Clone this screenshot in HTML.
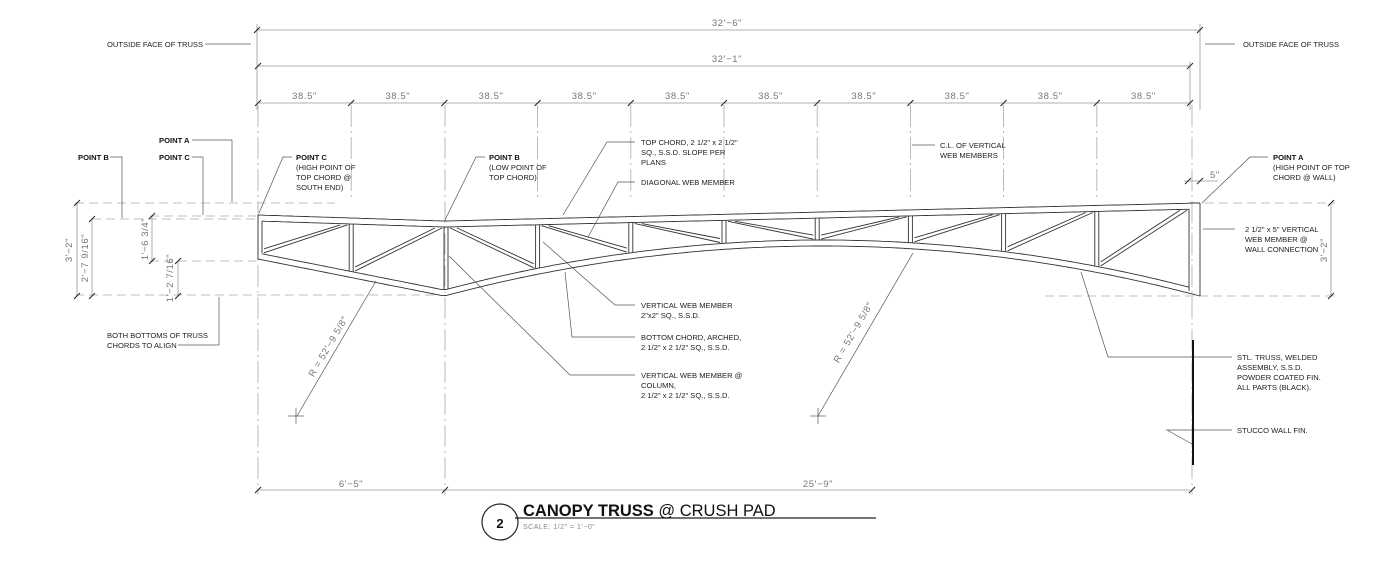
<!DOCTYPE html>
<html><head><meta charset="utf-8">
<style>
html,body{margin:0;padding:0;background:#fff;}
svg{display:block;}
text{font-family:"Liberation Sans Narrow","Liberation Sans",sans-serif;}
.l{font-size:7.6px;fill:#222;}
.b{font-size:7.6px;fill:#111;font-weight:bold;}
.d{font-family:"Liberation Sans",sans-serif;font-size:9.5px;fill:#777;letter-spacing:0.6px;}
</style></head><body>
<svg id="s" width="1400" height="584" viewBox="0 0 1400 584" xmlns="http://www.w3.org/2000/svg">
<g fill="none" stroke="#999" stroke-width="0.8">
 <line x1="256" y1="30" x2="1201" y2="30"/>
 <line x1="258" y1="66" x2="1190" y2="66"/>
 <line x1="258" y1="103" x2="1190" y2="103"/>
 <line x1="257" y1="24" x2="257" y2="110"/>
 <line x1="1200" y1="24" x2="1200" y2="110"/>
 <line x1="1190" y1="62" x2="1190" y2="110"/>
 <line x1="258" y1="490" x2="1190" y2="490"/>
 <g stroke-dasharray="22,4,2,4" stroke="#aaa">
  <line x1="258" y1="105" x2="258" y2="495"/>
  <line x1="445" y1="105" x2="445" y2="495"/>
  <line x1="1192" y1="105" x2="1192" y2="495"/>
 </g>
 <g stroke-dasharray="9,5" stroke="#aaa">
  <line x1="75" y1="203" x2="335" y2="203"/>
  <line x1="150" y1="216" x2="256" y2="216"/>
  <line x1="92" y1="219" x2="256" y2="219"/>
  <line x1="150" y1="261" x2="256" y2="261"/>
  <line x1="75" y1="295" x2="440" y2="295"/>
  <line x1="1205" y1="203" x2="1335" y2="203"/>
  <line x1="1045" y1="296" x2="1335" y2="296"/>
 </g>
 <line x1="77" y1="203" x2="77" y2="296"/>
 <line x1="92" y1="219" x2="92" y2="296"/>
 <line x1="152" y1="216" x2="152" y2="262"/>
 <line x1="178" y1="261" x2="178" y2="296"/>
 <line x1="1331" y1="203" x2="1331" y2="296"/>
 <line x1="1184" y1="181" x2="1218" y2="181"/>
</g>
<g id="ticks" stroke="#222" stroke-width="1"></g>
<g id="dd" fill="none" stroke="#aaa" stroke-width="0.8" stroke-dasharray="22,4,2,4"></g>
<g id="truss" fill="none" stroke="#333" stroke-width="0.9"></g>
<g fill="none" stroke="#555" stroke-width="0.7">
 <polyline points="205,44 251,44"/>
 <polyline points="1205,44 1235,44"/>
 <polyline points="192,140 232,140 232,202"/>
 <polyline points="110,157 122,157 122,218"/>
 <polyline points="192,157 203,157 203,215"/>
 <polyline points="178,345 219,345 219,297"/>
 <polyline points="292,157 283,157 259,213"/>
 <polyline points="485,157 476,157 445,220"/>
 <polyline points="635,142 607,142 563,215"/>
 <polyline points="635,182 618,182 588,237"/>
 <polyline points="935,145 912,145"/>
 <polyline points="1268,157 1250,157 1202,203"/>
 <polyline points="1235,229 1203,229"/>
 <polyline points="635,305 615,305 543,242"/>
 <polyline points="635,337 572,337 565,272"/>
 <polyline points="635,375 570,375 449,256"/>
 <polyline points="1232,357 1108,357 1081,272"/>
 <polyline points="1232,430 1167,430 1192,444"/>
 <line x1="297" y1="416" x2="376" y2="281"/>
 <line x1="818" y1="416" x2="913" y2="253"/>
 <line x1="288" y1="416" x2="304" y2="416"/><line x1="296" y1="408" x2="296" y2="424"/>
 <line x1="810" y1="416" x2="826" y2="416"/><line x1="818" y1="408" x2="818" y2="424"/>
 <line x1="515" y1="518" x2="876" y2="518" stroke="#222" stroke-width="1.2"/>
</g>
<line x1="1193" y1="340" x2="1193" y2="465" stroke="#111" stroke-width="2"/>
<circle cx="500" cy="522" r="18" fill="none" stroke="#222" stroke-width="1.2"/>
<g>
 <text class="d" x="727" y="26" text-anchor="middle">32'−6"</text>
 <text class="d" x="727" y="62" text-anchor="middle">32'−1"</text>
 <text class="d" x="351" y="487" text-anchor="middle">6'−5"</text>
 <text class="d" x="818" y="487" text-anchor="middle">25'−9"</text>
 <text class="d" x="1210" y="178">5"</text>
 <text class="d" transform="translate(72,250) rotate(-90)" text-anchor="middle">3'−2"</text>
 <text class="d" transform="translate(88,258) rotate(-90)" text-anchor="middle">2'−7  9/16"</text>
 <text class="d" transform="translate(148,239) rotate(-90)" text-anchor="middle">1'−6  3/4"</text>
 <text class="d" transform="translate(173,278) rotate(-90)" text-anchor="middle">1'−2  7/16"</text>
 <text class="d" transform="translate(1327,250) rotate(-90)" text-anchor="middle">3'−2"</text>
 <text class="d" transform="translate(331,348) rotate(-59.5)" text-anchor="middle">R = 52'−9  5/8"</text>
 <text class="d" transform="translate(856,334) rotate(-59.5)" text-anchor="middle">R = 52'−9  5/8"</text>
 <text class="l" x="107" y="47">OUTSIDE FACE OF TRUSS</text>
 <text class="l" x="1243" y="47">OUTSIDE FACE OF TRUSS</text>
 <text class="b" x="159" y="143">POINT A</text>
 <text class="b" x="78" y="160">POINT B</text>
 <text class="b" x="159" y="160">POINT C</text>
 <text class="l" x="107" y="338">BOTH BOTTOMS OF TRUSS</text>
 <text class="l" x="107" y="348">CHORDS TO ALIGN</text>
 <text class="b" x="296" y="160">POINT C</text>
 <text class="l" x="296" y="170">(HIGH POINT OF</text>
 <text class="l" x="296" y="180">TOP CHORD @</text>
 <text class="l" x="296" y="190">SOUTH END)</text>
 <text class="b" x="489" y="160">POINT B</text>
 <text class="l" x="489" y="170">(LOW POINT OF</text>
 <text class="l" x="489" y="180">TOP CHORD)</text>
 <text class="l" x="641" y="145">TOP CHORD, 2 1/2" x 2 1/2"</text>
 <text class="l" x="641" y="155">SQ., S.S.D.  SLOPE PER</text>
 <text class="l" x="641" y="165">PLANS</text>
 <text class="l" x="641" y="185">DIAGONAL WEB MEMBER</text>
 <text class="l" x="940" y="148">C.L. OF VERTICAL</text>
 <text class="l" x="940" y="158">WEB MEMBERS</text>
 <text class="b" x="1273" y="160">POINT A</text>
 <text class="l" x="1273" y="170">(HIGH POINT OF TOP</text>
 <text class="l" x="1273" y="180">CHORD @ WALL)</text>
 <text class="l" x="1245" y="232">2 1/2" x 5" VERTICAL</text>
 <text class="l" x="1245" y="242">WEB MEMBER @</text>
 <text class="l" x="1245" y="252">WALL CONNECTION</text>
 <text class="l" x="641" y="308">VERTICAL WEB MEMBER</text>
 <text class="l" x="641" y="318">2"x2" SQ., S.S.D.</text>
 <text class="l" x="641" y="340">BOTTOM CHORD, ARCHED,</text>
 <text class="l" x="641" y="350">2 1/2" x 2 1/2" SQ., S.S.D.</text>
 <text class="l" x="641" y="378">VERTICAL WEB MEMBER @</text>
 <text class="l" x="641" y="388">COLUMN,</text>
 <text class="l" x="641" y="398">2 1/2" x 2 1/2" SQ.,  S.S.D.</text>
 <text class="l" x="1237" y="360">STL. TRUSS, WELDED</text>
 <text class="l" x="1237" y="370">ASSEMBLY, S.S.D.</text>
 <text class="l" x="1237" y="380">POWDER COATED FIN.</text>
 <text class="l" x="1237" y="390">ALL PARTS (BLACK).</text>
 <text class="l" x="1237" y="433">STUCCO WALL FIN.</text>
 <text x="500" y="528" text-anchor="middle" style="font-family:'Liberation Sans',sans-serif;font-size:13px;font-weight:bold;fill:#111">2</text>
 <text x="523" y="516" style="font-family:'Liberation Sans',sans-serif;font-size:16.5px;fill:#111"><tspan font-weight="bold">CANOPY TRUSS</tspan> @ CRUSH PAD</text>
 <text x="523" y="529" style="font-family:'Liberation Sans',sans-serif;font-size:7px;fill:#888;letter-spacing:0.5px">SCALE:  1/2"  =  1'−0"</text>
</g>
<g id="dl"></g>
</svg>
<script>
var NS="http://www.w3.org/2000/svg";
function el(p,tag,a){var e=document.createElementNS(NS,tag);for(var k in a)e.setAttribute(k,a[k]);document.getElementById(p).appendChild(e);return e;}
function line(p,x1,y1,x2,y2){el(p,"line",{x1:x1,y1:y1,x2:x2,y2:y2});}
var sp=93.2;
var xs=[];for(var i=0;i<=10;i++)xs.push(258+i*sp);
for(var i=0;i<10;i++){var t=el("dl","text",{x:(xs[i]+xs[i+1])/2,y:99,"text-anchor":"middle","class":"d"});t.textContent='38.5"';}
function tick(x,y){line("ticks",x-3,y+3,x+3,y-3);}
xs.forEach(function(x){tick(x,103);});
tick(257,30);tick(1200,30);tick(258,66);tick(1190,66);
tick(258,490);tick(445,490);tick(1192,490);
tick(77,203);tick(77,296);tick(92,219);tick(92,296);tick(152,216);tick(152,261);tick(178,261);tick(178,296);
tick(1331,203);tick(1331,296);tick(1188,181);tick(1200,181);
for(var i=1;i<10;i++){if(i==2)continue;line("dd",xs[i],105,xs[i],200);}
function topO(x){return x<444?215+(x-258)*6/186:221-(x-444)*18/756;}
function topI(x){return topO(x)+6;}
function botO(x){return x<444?259+(x-258)*37/186:246+3.5e-4*Math.pow(x-822,2);}
function botI(x){return botO(x)-6;}
function pl(f,a,b){var pts=[];for(var x=a;x<=b;x+=4)pts.push(x+","+f(x).toFixed(1));pts.push(b+","+f(b).toFixed(1));el("truss","polyline",{points:pts.join(" ")});}
pl(topO,258,1200);pl(topI,262,1189);pl(botO,258,1200);pl(botI,262,1189);
line("truss",258,215,258,259);line("truss",262,221,262,253);
line("truss",1200,203,1200,296);line("truss",1189,209,1189,291);line("truss",1189,203,1200,203);
var vx=[xs[1],446,xs[3],xs[4],xs[5],xs[6],xs[7],xs[8],xs[9]];
vx.forEach(function(x){[x-2,x+2].forEach(function(v){line("truss",v,topI(v),v,botI(v));});});
var bx=[262].concat(vx).concat([1189]);
for(var i=0;i<bx.length-1;i++){
 var a=bx[i]+(i==0?0:2),b=bx[i+1]-(i==bx.length-2?0:2);
 var up=(i<2||i>=6);
 if(up){line("truss",a+2,botI(a)-1,b-2,topI(b)+1);line("truss",a+2,botI(a)-5,b-9,topI(b)+1);}
 else{line("truss",a+2,topI(a)+1,b-2,botI(b)-1);line("truss",a+9,topI(a)+1,b-2,botI(b)-5);}
}
</script>
</body></html>
